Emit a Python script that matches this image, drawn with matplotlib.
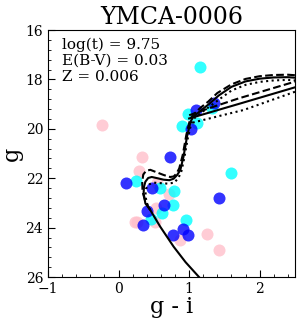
import numpy as np
import matplotlib
matplotlib.use('Agg')
import matplotlib.pyplot as plt
from matplotlib.ticker import MultipleLocator

plt.rcParams['font.family'] = 'DejaVu Serif'

# cluster members (g-i, g)
pink_gi = [-0.23, 0.33, 0.29, 0.54, 0.72, 0.53, 0.26, 0.24, 0.51, 0.875, 1.26, 1.43]
pink_g = [19.86, 21.15, 21.7, 22.2, 22.64, 23.2, 23.76, 23.76, 23.76, 24.5, 24.27, 24.9]

cyan_gi = [1.15, 0.99, 0.9, 1.11, 1.32, 1.59, 0.25, 0.59, 0.79, 0.77, 0.61, 0.46, 0.96]
cyan_g = [17.51, 19.4, 19.89, 19.78, 19.17, 21.78, 22.11, 22.38, 22.5, 23.09, 23.42, 23.65, 23.69]

blue_gi = [1.10, 1.35, 1.02, 0.73, 0.10, 0.47, 1.43, 0.65, 0.40, 0.35, 0.92, 0.98, 0.77]
blue_g = [19.24, 18.94, 20.02, 21.15, 22.21, 22.41, 22.81, 23.09, 23.31, 23.9, 24.07, 24.3, 24.3]

# isochrones
iso1_gi = [1.14, 0.95, 0.78, 0.59, 0.45, 0.38, 0.355, 0.36, 0.38, 0.42, 0.47, 0.55, 0.64, 0.72, 0.78,
           0.83, 0.875, 0.92, 0.97, 1.02, 1.06, 1.17, 1.28, 1.42, 1.6, 1.8, 2.0, 2.2, 2.4, 2.5]
iso1_g = [26.0, 25.4, 24.77, 23.96, 23.29, 23.02, 22.61, 22.35, 22.14, 21.99, 21.95, 22.0, 22.06, 22.08, 22.02,
          21.87, 21.67, 21.13, 20.32, 19.71, 19.51, 19.25, 19.0, 18.65, 18.3, 18.08, 17.97, 17.92, 17.91, 17.93]

iso2_gi = [0.45, 0.38, 0.34, 0.335, 0.35, 0.39, 0.45, 0.53, 0.64, 0.73, 0.78, 0.82, 0.86, 0.91, 0.96, 1.01,
           1.05, 1.16, 1.27, 1.4, 1.6, 1.8, 2.0, 2.2, 2.4, 2.5]
iso2_g = [23.29, 22.95, 22.55, 22.15, 21.85, 21.7, 21.66, 21.75, 21.87, 21.95, 21.93, 21.82, 21.6, 21.05, 20.25,
          19.65, 19.45, 19.15, 18.9, 18.55, 18.2, 17.98, 17.87, 17.82, 17.81, 17.83]

iso3_gi = [0.45, 0.40, 0.38, 0.39, 0.43, 0.5, 0.6, 0.7, 0.79, 0.85, 0.89, 0.93, 0.98, 1.03, 1.07,
           1.18, 1.29, 1.43, 1.6, 1.8, 2.0, 2.2, 2.4, 2.5]
iso3_g = [23.29, 23.0, 22.7, 22.42, 22.25, 22.18, 22.2, 22.22, 22.18, 21.98, 21.72, 21.2, 20.4, 19.78, 19.58,
          19.33, 19.1, 18.8, 18.45, 18.22, 18.1, 18.04, 18.02, 18.04]

# horizontal branch / AGB
hb1_gi = [1.0, 1.3, 1.73, 2.5]
hb1_g = [19.58, 19.33, 18.97, 18.32]
hb2_gi = [1.0, 1.3, 1.7, 2.5]
hb2_g = [19.45, 19.15, 18.77, 18.09]
hb3_gi = [1.05, 1.4, 1.77, 2.5]
hb3_g = [19.75, 19.5, 19.24, 18.5]

fig = plt.figure(figsize=(2.97, 3.21), dpi=100)
ax = fig.add_axes([0.1616, 0.137, 0.8316, 0.7695])

ax.scatter(pink_gi, pink_g, s=75, color='pink', alpha=0.8, lw=0, zorder=2)
ax.scatter(cyan_gi, cyan_g, s=75, color='cyan', alpha=0.8, lw=0, zorder=3)
ax.scatter(blue_gi, blue_g, s=75, color='blue', alpha=0.8, lw=0, zorder=4)

ax.plot(iso1_gi, iso1_g, 'k-', lw=1.5, zorder=5)
ax.plot(iso2_gi, iso2_g, 'k--', lw=1.5, zorder=5)
ax.plot(iso3_gi, iso3_g, 'k:', lw=1.5, zorder=5)
ax.plot(hb1_gi, hb1_g, 'k-', lw=1.5, zorder=5)
ax.plot(hb2_gi, hb2_g, 'k--', lw=1.5, zorder=5)
ax.plot(hb3_gi, hb3_g, 'k:', lw=1.5, zorder=5)

ax.set_xlim(-1, 2.5)
ax.set_ylim(26, 16)
ax.xaxis.set_major_locator(MultipleLocator(1))
ax.xaxis.set_minor_locator(MultipleLocator(0.2))
ax.yaxis.set_major_locator(MultipleLocator(2))
ax.yaxis.set_minor_locator(MultipleLocator(0.4))
ax.tick_params(which='both', direction='in', labelsize=10)
ax.tick_params(which='major', length=5)
ax.tick_params(which='minor', length=2.5)

ax.set_xlabel('g - i', fontsize=16, labelpad=0)
ax.set_ylabel('g', fontsize=16, labelpad=2)
ax.set_title('YMCA-0006', fontsize=17, pad=4)

ax.text(0.057, 0.97, 'log(t) = 9.75\nE(B-V) = 0.03\nZ = 0.006', transform=ax.transAxes,
        fontsize=11, va='top', ha='left', linespacing=1.2)

fig.savefig('out.png', dpi=100)
